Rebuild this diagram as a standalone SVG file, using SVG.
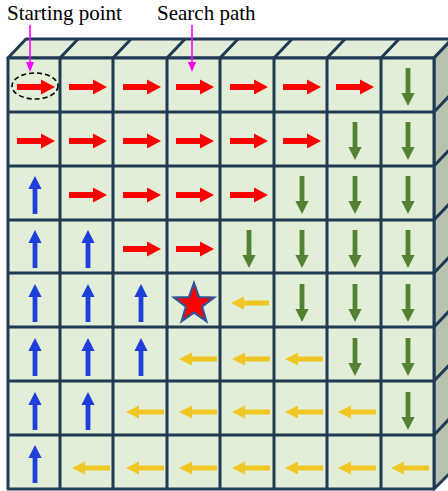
<svg xmlns="http://www.w3.org/2000/svg" xmlns:xlink="http://www.w3.org/1999/xlink" width="448" height="491" viewBox="0 0 448 491">
<style>
.face{fill:#E2EED8;stroke:#1F3A55;stroke-width:3;stroke-linejoin:round}
.side{fill:#B8C3AE;stroke:#1F3A55;stroke-width:3;stroke-linejoin:round}
.ln{stroke:#1F3A55;stroke-width:3;fill:none}
.mag{stroke:#FF00FF;stroke-width:1.6;fill:none}
.R{fill:#FF0000}.D{fill:#548235}.U{fill:#1F3FD8}.L{fill:#F0C624}
</style>
<defs>
<path id="aR" d="M-19,-3 H5 V-7.5 L19,0 L5,7.5 V3 H-19 Z"/>
<path id="aS" d="M-19,-2.4 H6 V-6.6 L19,0 L6,6.6 V2.4 H-19 Z"/>
</defs>
<g id="box">
<polygon class="face" points="8,58 26,39 452,39 434,58"/>
<polygon class="side" points="434,58 452,39 452,471 434,489"/>
<rect class="face" x="8" y="58" width="426" height="431"/>
<path class="ln" d="M60,58V489M113,58V489M167,58V489M220,58V489M274,58V489M327,58V489M381,58V489"/>
<path class="ln" d="M8,112H434M8,166H434M8,220H434M8,273H434M8,327H434M8,381H434M8,435H434"/>
<path class="ln" d="M60,58L78,39M113,58L131,39M167,58L185,39M220,58L238,39M274,58L292,39M327,58L345,39M381,58L399,39"/>
<path class="ln" d="M434,112L452,93M434,166L452,147M434,220L452,201M434,273L452,254M434,327L452,308M434,381L452,362M434,435L452,416"/>
</g>
<g id="cells">
<g id="r0">
<use xlink:href="#aR" class="R" transform="translate(36,87)"/>
<use xlink:href="#aR" class="R" transform="translate(88,87)"/>
<use xlink:href="#aR" class="R" transform="translate(142,87)"/>
<use xlink:href="#aR" class="R" transform="translate(195,87)"/>
<use xlink:href="#aR" class="R" transform="translate(249,87)"/>
<use xlink:href="#aR" class="R" transform="translate(302,87)"/>
<use xlink:href="#aR" class="R" transform="translate(355,87)"/>
<use xlink:href="#aS" class="D" transform="translate(408,87) rotate(90)"/>
</g>
<g id="r1">
<use xlink:href="#aR" class="R" transform="translate(36,141)"/>
<use xlink:href="#aR" class="R" transform="translate(88,141)"/>
<use xlink:href="#aR" class="R" transform="translate(142,141)"/>
<use xlink:href="#aR" class="R" transform="translate(195,141)"/>
<use xlink:href="#aR" class="R" transform="translate(249,141)"/>
<use xlink:href="#aR" class="R" transform="translate(302,141)"/>
<use xlink:href="#aS" class="D" transform="translate(355,141) rotate(90)"/>
<use xlink:href="#aS" class="D" transform="translate(408,141) rotate(90)"/>
</g>
<g id="r2">
<use xlink:href="#aS" class="U" transform="translate(35,195) rotate(-90)"/>
<use xlink:href="#aR" class="R" transform="translate(88,195)"/>
<use xlink:href="#aR" class="R" transform="translate(142,195)"/>
<use xlink:href="#aR" class="R" transform="translate(195,195)"/>
<use xlink:href="#aR" class="R" transform="translate(249,195)"/>
<use xlink:href="#aS" class="D" transform="translate(302,195) rotate(90)"/>
<use xlink:href="#aS" class="D" transform="translate(355,195) rotate(90)"/>
<use xlink:href="#aS" class="D" transform="translate(408,195) rotate(90)"/>
</g>
<g id="r3">
<use xlink:href="#aS" class="U" transform="translate(35,249) rotate(-90)"/>
<use xlink:href="#aS" class="U" transform="translate(88,249) rotate(-90)"/>
<use xlink:href="#aR" class="R" transform="translate(142,249)"/>
<use xlink:href="#aR" class="R" transform="translate(195,249)"/>
<use xlink:href="#aS" class="D" transform="translate(249,249) rotate(90)"/>
<use xlink:href="#aS" class="D" transform="translate(302,249) rotate(90)"/>
<use xlink:href="#aS" class="D" transform="translate(355,249) rotate(90)"/>
<use xlink:href="#aS" class="D" transform="translate(408,249) rotate(90)"/>
</g>
<g id="r4">
<use xlink:href="#aS" class="U" transform="translate(35,303) rotate(-90)"/>
<use xlink:href="#aS" class="U" transform="translate(88,303) rotate(-90)"/>
<use xlink:href="#aS" class="U" transform="translate(141,303) rotate(-90)"/>
<polygon id="goal" fill="#FF0000" stroke="#2F5597" stroke-width="2.2" stroke-linejoin="miter" points="194,283 199,297.1 214,297.5 202.1,306.6 206.3,321 194,312.5 181.7,321 185.9,306.6 174,297.5 189,297.1"/>
<use xlink:href="#aS" class="L" transform="translate(250,303) rotate(180)"/>
<use xlink:href="#aS" class="D" transform="translate(302,303) rotate(90)"/>
<use xlink:href="#aS" class="D" transform="translate(355,303) rotate(90)"/>
<use xlink:href="#aS" class="D" transform="translate(408,303) rotate(90)"/>
</g>
<g id="r5">
<use xlink:href="#aS" class="U" transform="translate(35,357) rotate(-90)"/>
<use xlink:href="#aS" class="U" transform="translate(88,357) rotate(-90)"/>
<use xlink:href="#aS" class="U" transform="translate(141,357) rotate(-90)"/>
<use xlink:href="#aS" class="L" transform="translate(198,359) rotate(180)"/>
<use xlink:href="#aS" class="L" transform="translate(251,359) rotate(180)"/>
<use xlink:href="#aS" class="L" transform="translate(304,359) rotate(180)"/>
<use xlink:href="#aS" class="D" transform="translate(355,357) rotate(90)"/>
<use xlink:href="#aS" class="D" transform="translate(408,357) rotate(90)"/>
</g>
<g id="r6">
<use xlink:href="#aS" class="U" transform="translate(35,411) rotate(-90)"/>
<use xlink:href="#aS" class="U" transform="translate(88,411) rotate(-90)"/>
<use xlink:href="#aS" class="L" transform="translate(145,412) rotate(180)"/>
<use xlink:href="#aS" class="L" transform="translate(198,412) rotate(180)"/>
<use xlink:href="#aS" class="L" transform="translate(251,412) rotate(180)"/>
<use xlink:href="#aS" class="L" transform="translate(304,412) rotate(180)"/>
<use xlink:href="#aS" class="L" transform="translate(357,412) rotate(180)"/>
<use xlink:href="#aS" class="D" transform="translate(408,411) rotate(90)"/>
</g>
<g id="r7">
<use xlink:href="#aS" class="U" transform="translate(35,464) rotate(-90)"/>
<use xlink:href="#aS" class="L" transform="translate(91,468) rotate(180)"/>
<use xlink:href="#aS" class="L" transform="translate(145,468) rotate(180)"/>
<use xlink:href="#aS" class="L" transform="translate(198,468) rotate(180)"/>
<use xlink:href="#aS" class="L" transform="translate(251,468) rotate(180)"/>
<use xlink:href="#aS" class="L" transform="translate(304,468) rotate(180)"/>
<use xlink:href="#aS" class="L" transform="translate(357,468) rotate(180)"/>
<use xlink:href="#aS" class="L" transform="translate(410,468) rotate(180)"/>
</g>
</g>
<g id="start-mark">
<ellipse cx="35" cy="86" rx="23" ry="13" fill="none" stroke="#000" stroke-width="1.6" stroke-dasharray="5,3"/>
</g>
<g id="label-start">
<text x="7" y="20" font-family="Liberation Serif, Times New Roman, serif" font-size="21" fill="#000">Starting point</text>
</g>
<g id="label-path">
<text x="157" y="20" font-family="Liberation Serif, Times New Roman, serif" font-size="21" fill="#000">Search path</text>
</g>
<g id="connectors">
<path class="mag" d="M30,25V63"/>
<polygon fill="#FF00FF" points="26,62 34,62 30,72"/>
<path class="mag" d="M192,25V63"/>
<polygon fill="#FF00FF" points="188,62 196,62 192,72"/>
</g>
</svg>
